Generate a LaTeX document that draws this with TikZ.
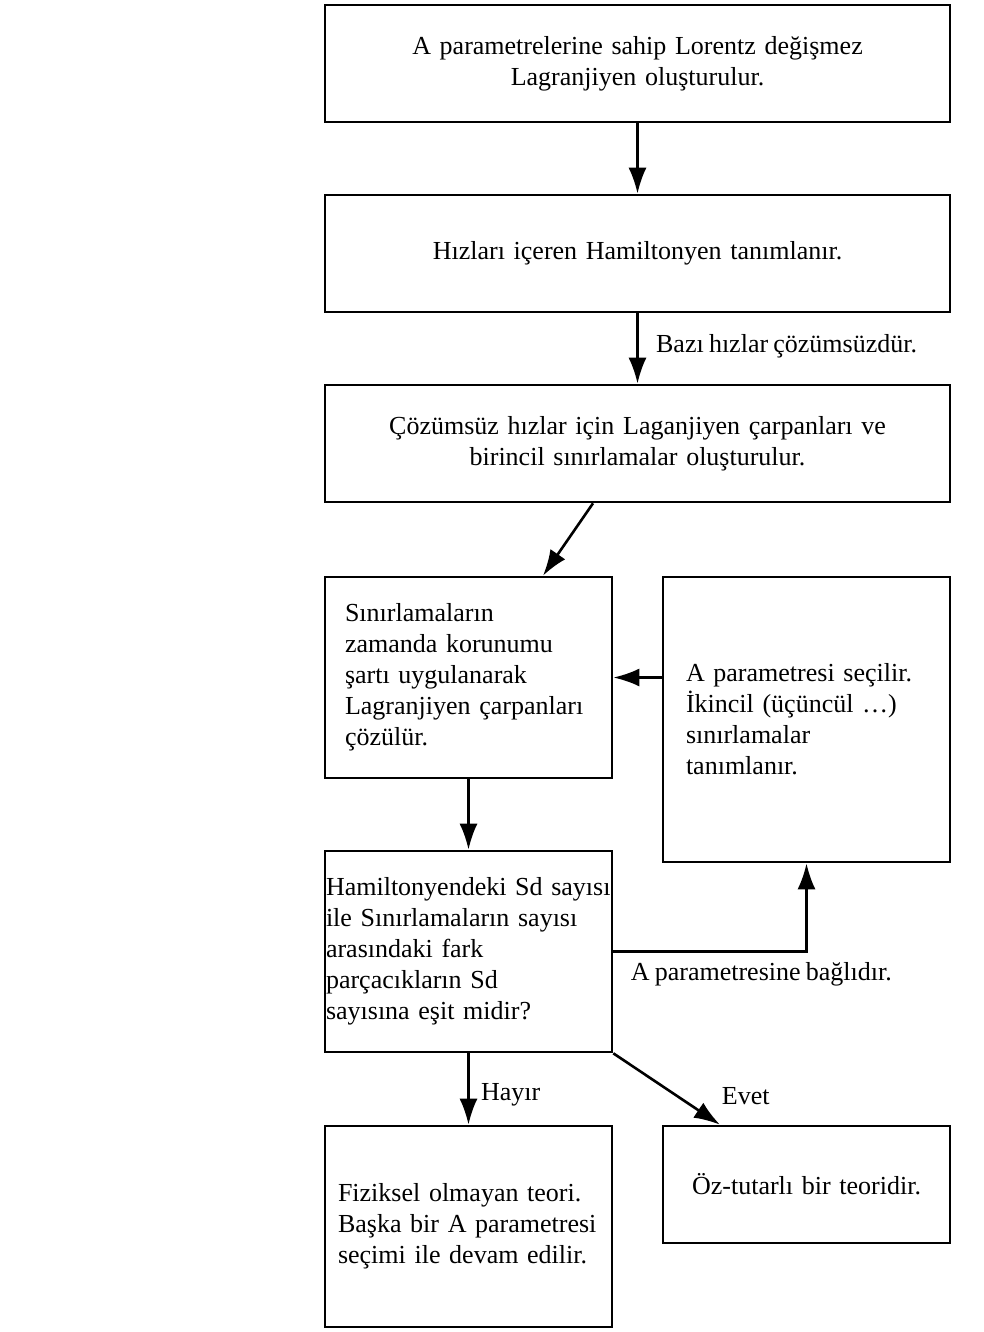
\documentclass[tikz,border=0pt]{standalone}
\usepackage{fontspec}
\setmainfont[WordSpace=0.8]{Liberation Serif}
\usepackage{tikz}
\usetikzlibrary{arrows.meta}

\tikzset{
  box/.style={draw, line width=2.6pt, minimum height=117pt, inner ysep=4pt,
    font=\fontsize{26}{31}\selectfont},
  widebox/.style={box, minimum width=625pt, text width=585pt, align=center},
  sidebox/.style={box, minimum width=287pt},
  arr/.style={line width=2.6pt, -{Latex[length=26pt,width=18pt]}},
  lbl/.style={font=\fontsize{26}{31}\selectfont}
}

\begin{document}
\begin{tikzpicture}[x=1pt, y=-1pt]
  \useasboundingbox (0,0) rectangle (983,1332);
  % top column
  \node[widebox] (lag) at (637.5,63.5)
    {A parametrelerine sahip Lorentz değişmez\\Lagranjiyen oluşturulur.};
  \node[widebox] (ham) at (637.5,253.5) {Hızları içeren Hamiltonyen tanımlanır.};
  \node[widebox] (carp) at (637.5,443.5)
    {Çözümsüz hızlar için Laganjiyen çarpanları ve\\birincil sınırlamalar oluşturulur.};
  % middle row
  \node[sidebox, minimum height=201pt, inner xsep=20pt, text width=247pt, align=left]
    (coz) at (468.5,677.5)
    {Sınırlamaların\\zamanda korunumu\\şartı uygulanarak\\Lagranjiyen çarpanları\\çözülür.};
  \node[sidebox, minimum height=285pt, inner xsep=23pt, text width=241pt, align=left]
    (sec) at (806.5,719.5)
    {A parametresi seçilir.\\İkincil (üçüncül \dots)\\sınırlamalar\\tanımlanır.};
  \node[sidebox, minimum height=201pt, inner xsep=1pt, text width=285pt, align=left]
    (sor) at (468.5,951.5)
    {Hamiltonyendeki Sd sayısı\\ile Sınırlamaların sayısı\\arasındaki fark\\parçacıkların Sd\\sayısına eşit midir?};
  % bottom row
  \node[sidebox, minimum height=201pt, inner xsep=13pt, text width=261pt, align=left]
    (fiz) at (468.5,1226.5)
    {Fiziksel olmayan teori.\\Başka bir A parametresi\\seçimi ile devam edilir.};
  \node[sidebox, text width=257pt, align=center] (oz) at (806.5,1184.5)
    {Öz-tutarlı bir teoridir.};

  \path[arr]
    (lag) edge (ham)
    (ham) edge node[lbl, pos=0.47, anchor=west, xshift=14pt] {Bazı hızlar çözümsüzdür.} (carp)
    ([xshift=-44.5pt]carp.south) edge ([xshift=74.5pt]coz.north)
    (sec.west |- coz.east) edge (coz.east)
    (coz) edge (sor)
    (sor) edge node[lbl, pos=0.58, anchor=west, xshift=8pt] {Hayır} (fiz)
    (sor.south east) edge node[lbl, pos=0.6, anchor=west, xshift=40pt] {Evet} ([xshift=-86.5pt]oz.north)
  ;
  \draw[arr] (sor.east) -| node[lbl, pos=0.383, below, yshift=-6pt] {A parametresine bağlıdır.} (sec.south);
\end{tikzpicture}
\end{document}
